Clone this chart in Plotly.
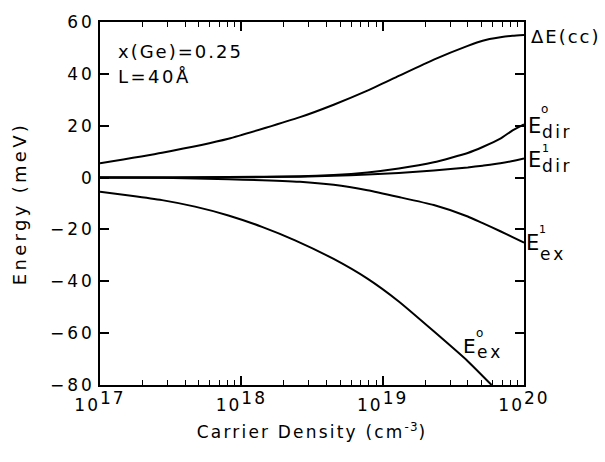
import plotly.graph_objects as go

# Carrier density grid (cm^-3) shared by four of the curves
density = [1e17, 2.75e17, 8.1e17, 2.6e18, 4.5e18, 7.8e18, 1.3e19,
           2.3e19, 4.0e19, 5.1e19, 6.8e19, 8.3e19, 1e20]
delta_e_cc = [5.5, 9.6, 15.0, 23.3, 28.1, 33.5, 39.2, 45.5, 50.8, 52.8, 54.1, 54.7, 55.0]
e0_dir = [0.0, 0.05, 0.2, 0.5, 1.0, 2.0, 3.5, 5.9, 9.5, 11.8, 15.0, 18.2, 20.5]
e1_dir = [0.0, 0.05, 0.1, 0.3, 0.7, 1.2, 1.8, 2.7, 3.9, 4.6, 5.5, 6.4, 7.4]
e1_ex = [0.0, -0.1, -0.6, -1.6, -2.8, -4.9, -7.5, -10.6, -15.0, -17.6, -20.7, -23.0, -25.1]

# The E0 exciton curve leaves the frame before 1e20
density_e0_ex = [1e17, 1.66e17, 2.75e17, 4.7e17, 8.1e17, 1.4e18, 2.4e18,
                 4.5e18, 7.8e18, 1.3e19, 2.3e19, 4.0e19, 5.9e19]
e0_ex = [-5.5, -7.0, -8.7, -11.2, -14.6, -19.0, -24.2, -31.4, -39.0, -47.8, -59.3, -70.8, -80.0]

x_tick_vals = [1e17, 1e18, 1e19, 1e20]
x_tick_exp = ["17", "18", "19", "20"]
y_tick_vals = [-80, -60, -40, -20, 0, 20, 40, 60]

FONT = "DejaVu Sans"
W, H = 605, 462
L, R, T, B = 100, 81, 15, 77


def spaced(text, gap):
    """Wrap text in a span with extra letter spacing."""
    return f"<span style='letter-spacing:{gap}px'>{text}</span>"


x_tick_text = [spaced("10", 2) + "<sup><span style='font-size:17px;letter-spacing:2px'>"
               + e + "</span></sup>" for e in x_tick_exp]
y_tick_text = [spaced(str(v).replace("-", "−"), 3) for v in y_tick_vals]

fig = go.Figure()
line = dict(color="black", width=2, shape="spline", smoothing=0.5)
for xs, ys in [(density, delta_e_cc), (density, e0_dir), (density, e1_dir),
               (density, e1_ex), (density_e0_ex, e0_ex)]:
    fig.add_trace(go.Scatter(x=xs, y=ys, mode="lines", line=line,
                             showlegend=False, hoverinfo="skip"))


def px(x, y):
    """Pixel position -> paper coordinates."""
    return (x - L) / (W - L - R), (H - B - y) / (H - T - B)


def label(text, x, y, size, anchor="center"):
    xp, yp = px(x, y)
    fig.add_annotation(text=text, x=xp, y=yp, xref="paper", yref="paper",
                       showarrow=False, xanchor=anchor, yanchor="middle",
                       font=dict(family=FONT, size=size, color="black"))


# Panel parameters
label(spaced("x(Ge)=0.25", 2), 116, 45, 18, "left")
label(spaced("L=40Å", 2.5), 116, 71, 18, "left")

# Curve labels at the right edge
label(spaced("ΔE(cc)", 2), 529, 30, 18, "left")

label("E", 534, 121, 21)
label("o", 544, 104, 12)
label(spaced("dir", 2.5), 540, 127, 17, "left")

label("E", 534, 156, 21)
label("1", 545, 144, 11)
label(spaced("dir", 2.5), 540, 162, 17, "left")

label("E", 532, 240, 21)
label("1", 542, 227, 11)
label(spaced("ex", 3), 538, 251, 17, "left")

label("E", 469, 345, 20)
label("o", 479, 332, 12)
label(spaced("ex", 3), 475, 351, 17, "left")

axis_common = dict(showline=True, linecolor="black", linewidth=1.5, mirror="ticks",
                   ticks="inside", tickcolor="black", tickwidth=1.5,
                   showgrid=False, zeroline=False,
                   tickfont=dict(family=FONT, size=17, color="black"))

fig.update_xaxes(type="log", range=[17, 20], tickvals=x_tick_vals, ticktext=x_tick_text,
                 ticklen=9, ticklabelstandoff=4,
                 minor=dict(ticks="inside", ticklen=5, tickwidth=1.2, tickcolor="black",
                            dtick="D1", showgrid=False),
                 title=dict(text=spaced("Carrier Density (cm", 2.2)
                            + "<sup>" + spaced("-3", 1) + "</sup>" + spaced(")", 2.2),
                            font=dict(family=FONT, size=17, color="black"), standoff=12),
                 **axis_common)
fig.update_yaxes(range=[-80, 60], tickvals=y_tick_vals, ticktext=y_tick_text, ticklen=9,
                 title=dict(text=spaced("Energy (meV)", 3.3),
                            font=dict(family=FONT, size=18, color="black"), standoff=19),
                 **axis_common)

fig.update_layout(width=W, height=H, margin=dict(l=L, r=R, t=T, b=B),
                  plot_bgcolor="white", paper_bgcolor="white",
                  font=dict(family=FONT, color="black"))

fig.write_html("out.html")
